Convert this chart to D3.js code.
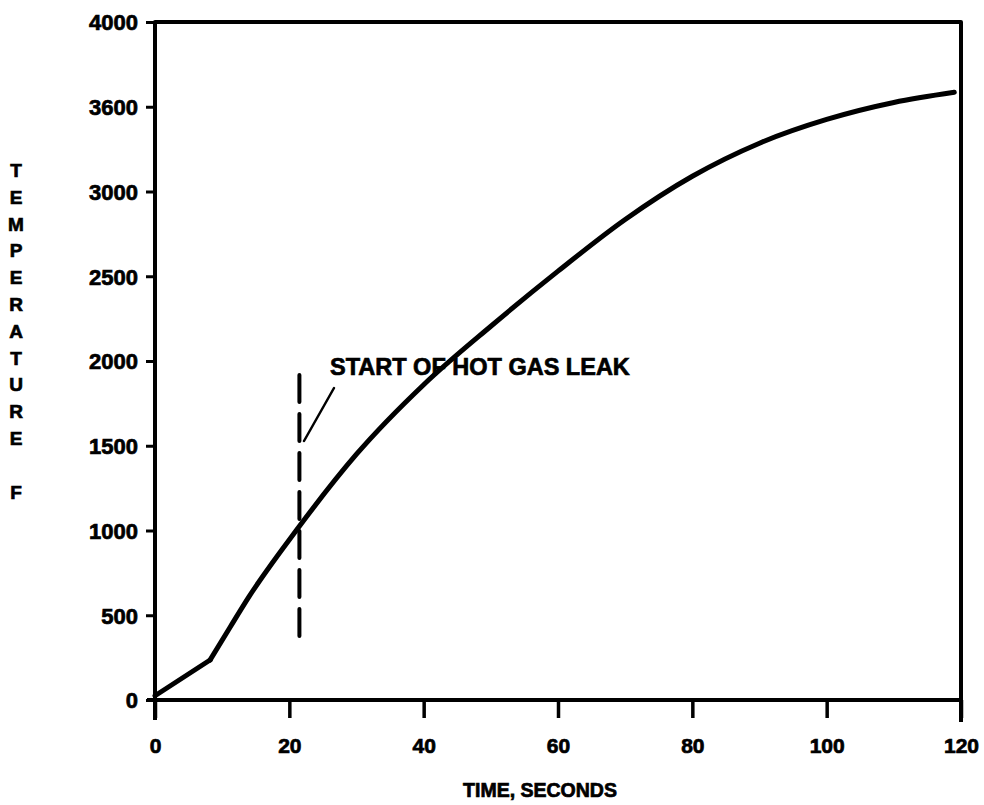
<!DOCTYPE html>
<html>
<head>
<meta charset="utf-8">
<script src="https://cdn.jsdelivr.net/npm/d3@7"></script>
<style>
  html, body { margin: 0; padding: 0; background: #fff; }
  svg { display: block; }
  text { font-family: "Liberation Sans", Arial, Helvetica, sans-serif; font-weight: bold; fill: #000; }
</style>
</head>
<body>
<svg id="chart" width="984" height="805"></svg>
<script>
// Temperature history (°F) against time (s)
const timeSec = [0, 8.2, 11.2, 14, 21.3, 30, 40, 50, 60, 70, 80, 90, 100, 110, 119];
const tempF   = [25, 236, 431, 610, 1015, 1450, 1860, 2205, 2530, 2835, 3090, 3285, 3425, 3525, 3585];
// Index where the warm-up ramp ends and the smooth rise begins
const rampEnd = 1;

// Axis ticks and their printed labels
const xTicks = [0, 20, 40, 60, 80, 100, 120];
const xTickLabels = ["0", "20", "40", "60", "80", "100", "120"];
const yTicks = [0, 500, 1000, 1500, 2000, 2500, 3000, 3500, 4000];
const yTickLabels = ["0", "500", "1000", "1500", "2000", "2500", "3000", "3600", "4000"];

// Leak onset marker
const leakTime = 21.5;
const leakTempRange = [366, 1917];
const leakLabel = "START OF HOT GAS LEAK";

const xTitle = "TIME, SECONDS";
const yTitleLetters = "TEMPERATURE".split("");
const yUnit = "F";

const svg = d3.select("#chart");
const plotL = 155, plotR = 961, plotT = 22, plotB = 700;

const x = d3.scaleLinear().domain([0, 120]).range([plotL, plotR]);
const y = d3.scaleLinear().domain([0, 4000]).range([plotB, plotT]);

// Heavy print look for all lettering
const ink = sel => sel.attr("stroke", "#000").attr("stroke-width", 0.7).attr("fill", "#000");

// Frame
const frame = svg.append("g").attr("stroke", "#000").attr("stroke-width", 4).attr("fill", "none");
frame.append("path")
  .attr("d", `M${plotL},${plotB + 20} L${plotL},${plotT} L${plotR},${plotT} L${plotR},${plotB + 22}`)
  .attr("stroke-linejoin", "round");
frame.append("line").attr("x1", plotL - 8).attr("x2", plotR).attr("y1", plotB).attr("y2", plotB);

// Y axis ticks and labels
const yAxis = d3.axisLeft(y).tickValues(yTicks)
  .tickFormat((d, i) => yTickLabels[i]).tickSize(9).tickPadding(8);
const gy = svg.append("g").attr("transform", `translate(${plotL},0)`).call(yAxis);
gy.select(".domain").remove();
gy.selectAll(".tick line").attr("stroke", "#000").attr("stroke-width", 3);
gy.selectAll(".tick text")
  .style("font-size", "22px").style("font-family", "'Liberation Sans', Arial, sans-serif")
  .style("font-weight", "bold").attr("dy", "0.36em").call(ink);

// X axis ticks and labels
const xAxis = d3.axisBottom(x).tickValues(xTicks)
  .tickFormat((d, i) => xTickLabels[i]).tickSize(18).tickPadding(20);
const gx = svg.append("g").attr("transform", `translate(0,${plotB})`).call(xAxis);
gx.select(".domain").remove();
gx.selectAll(".tick line").attr("stroke", "#000").attr("stroke-width", 3.5);
gx.selectAll(".tick text")
  .style("font-size", "21px").style("font-family", "'Liberation Sans', Arial, sans-serif")
  .style("font-weight", "bold").call(ink);

// Axis titles
svg.append("text")
  .attr("x", 540).attr("y", 797)
  .attr("text-anchor", "middle")
  .style("font-size", "19.5px")
  .text(xTitle).call(ink);

svg.append("g").selectAll("text")
  .data(yTitleLetters)
  .join("text")
  .attr("x", 16)
  .attr("y", (d, i) => 177 + i * 26.8)
  .attr("text-anchor", "middle")
  .style("font-size", "19px")
  .text(d => d).call(ink);

svg.append("text")
  .attr("x", 16).attr("y", 499)
  .attr("text-anchor", "middle")
  .style("font-size", "19px")
  .text(yUnit).call(ink);

// Temperature curve: straight warm-up ramp, then a smooth rise
const pts = timeSec.map((t, i) => [t, tempF[i]]);
const rampLine = d3.line().x(d => x(d[0])).y(d => y(d[1])).curve(d3.curveLinear);
const riseLine = d3.line().x(d => x(d[0])).y(d => y(d[1])).curve(d3.curveMonotoneX);

const curve = svg.append("g")
  .attr("fill", "none").attr("stroke", "#000").attr("stroke-width", 5)
  .attr("stroke-linecap", "round").attr("stroke-linejoin", "round");
curve.append("path").attr("d", rampLine(pts.slice(0, rampEnd + 1)));
curve.append("path").attr("d", riseLine(pts.slice(rampEnd)));

// Leak onset: dashed vertical line, leader and label
svg.append("line")
  .attr("x1", x(leakTime)).attr("x2", x(leakTime))
  .attr("y1", y(leakTempRange[1])).attr("y2", y(leakTempRange[0]))
  .attr("stroke", "#000").attr("stroke-width", 4)
  .attr("stroke-dasharray", "27,12")
  .attr("stroke-linecap", "round");

svg.append("line")
  .attr("x1", 334).attr("y1", 388)
  .attr("x2", 304).attr("y2", 441)
  .attr("stroke", "#000").attr("stroke-width", 2.5)
  .attr("stroke-linecap", "round");

svg.append("text")
  .attr("x", 330).attr("y", 375)
  .style("font-size", "23.5px")
  .text(leakLabel).call(ink);
</script>
</body>
</html>
